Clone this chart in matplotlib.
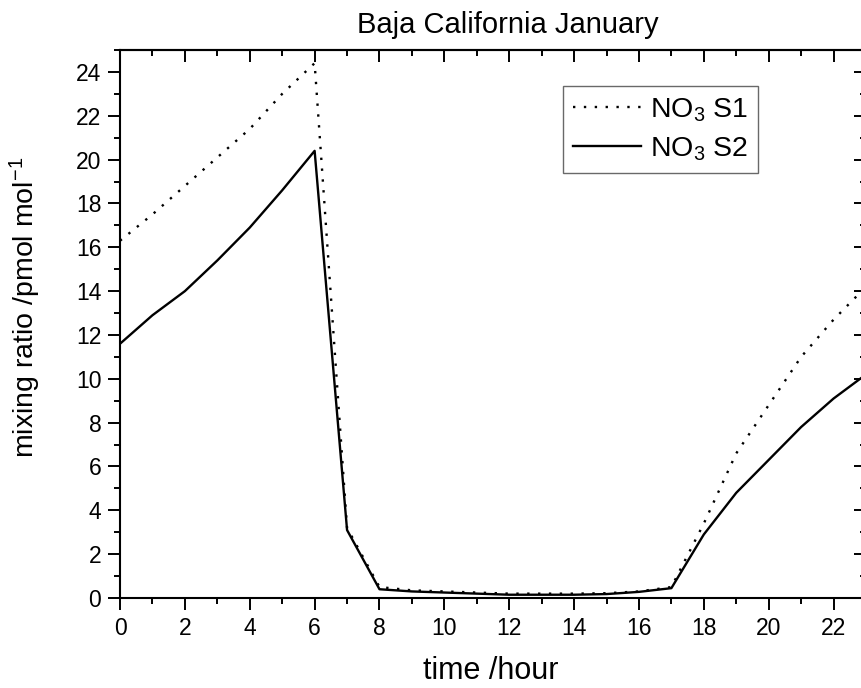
import matplotlib
matplotlib.use('Agg')
import matplotlib.pyplot as plt
from matplotlib.ticker import MultipleLocator

plt.rcParams['font.family'] = ['Liberation Sans', 'DejaVu Sans']
plt.rcParams['mathtext.fontset'] = 'custom'
plt.rcParams['mathtext.rm'] = 'Liberation Sans'
plt.rcParams['mathtext.it'] = 'Liberation Sans'
plt.rcParams['mathtext.default'] = 'regular'

# hourly values
hours = list(range(24))
no3_s1 = [16.3, 17.5, 18.8, 20.1, 21.4, 23.0, 24.4, 3.2, 0.5, 0.35,
          0.3, 0.25, 0.2, 0.2, 0.2, 0.22, 0.3, 0.5, 3.4, 6.6,
          8.8, 11.0, 12.7, 14.2]
no3_s2 = [11.6, 12.9, 14.0, 15.4, 16.9, 18.6, 20.4, 3.1, 0.4, 0.3,
          0.25, 0.2, 0.15, 0.15, 0.15, 0.18, 0.28, 0.45, 2.9, 4.8,
          6.3, 7.8, 9.1, 10.2]

fig = plt.figure(figsize=(8.61, 6.88), dpi=100)
ax = fig.add_axes([0.1394, 0.1308, 0.8664, 0.7965])

ax.plot(hours, no3_s1, color='black', lw=1.7, linestyle=(0, (1, 3.6)), label='NO$_3$ S1')
ax.plot(hours, no3_s2, color='black', lw=1.7, label='NO$_3$ S2')

ax.set_xlim(0, 23)
ax.set_ylim(0, 25)
ax.xaxis.set_major_locator(MultipleLocator(2))
ax.xaxis.set_minor_locator(MultipleLocator(1))
ax.yaxis.set_major_locator(MultipleLocator(2))
ax.yaxis.set_minor_locator(MultipleLocator(1))
ax.tick_params(which='major', direction='out', length=8.5, width=1.4, labelsize=16.5, pad=5)
ax.tick_params(which='minor', direction='out', length=4.3, width=1.4)
for s in ax.spines.values():
    s.set_linewidth(1.5)

# top and right axes with inward ticks, no labels
top = ax.secondary_xaxis('top')
top.xaxis.set_major_locator(MultipleLocator(2))
top.xaxis.set_minor_locator(MultipleLocator(1))
top.tick_params(which='major', direction='in', length=8.5, width=1.4, labeltop=False)
top.tick_params(which='minor', direction='in', length=4.3, width=1.4)
top.spines['top'].set_linewidth(1.5)
right = ax.secondary_yaxis('right')
right.yaxis.set_major_locator(MultipleLocator(2))
right.yaxis.set_minor_locator(MultipleLocator(1))
right.tick_params(which='major', direction='in', length=8.5, width=1.4, labelright=False)
right.tick_params(which='minor', direction='in', length=4.3, width=1.4)

ax.set_xlabel('time /hour', fontsize=22)
ax.set_ylabel('mixing ratio /pmol mol$^{-1}$', fontsize=20.5)
ax.xaxis.set_label_coords(0.497, -0.105)
ax.yaxis.set_label_coords(-0.103, 0.531)

fig.text(508 / 861, 1 - 33 / 688, 'Baja California January', fontsize=21,
         ha='center', va='baseline')

leg = ax.legend(loc='upper left', bbox_to_anchor=(0.594, 0.934), fontsize=20.5,
                frameon=True, fancybox=False, handlelength=2.4, handletextpad=0.3,
                borderpad=0.35, labelspacing=0.4, borderaxespad=0)
leg.get_frame().set_edgecolor('#444444')
leg.get_frame().set_linewidth(1.0)

plt.savefig('out.png', dpi=100)
